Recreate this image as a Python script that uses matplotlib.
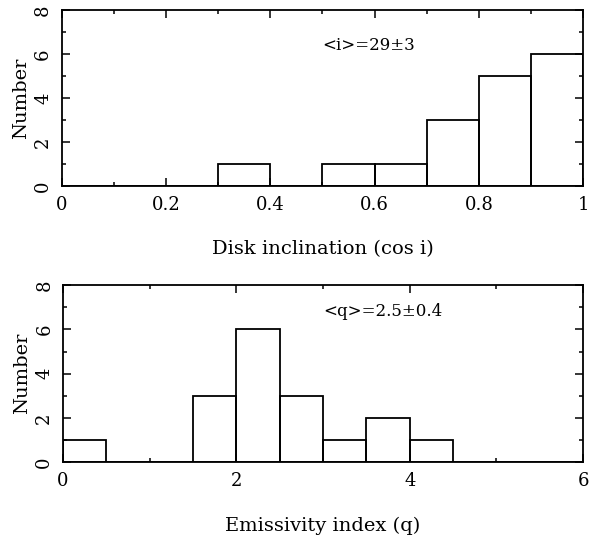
import matplotlib
matplotlib.use("Agg")
import matplotlib.pyplot as plt
from matplotlib.ticker import MultipleLocator

# Data
incl_edges = [0.0, 0.1, 0.2, 0.3, 0.4, 0.5, 0.6, 0.7, 0.8, 0.9, 1.0]
incl_counts = [0, 0, 0, 1, 0, 1, 1, 3, 5, 6]
q_edges = [0.0, 0.5, 1.0, 1.5, 2.0, 2.5, 3.0, 3.5, 4.0, 4.5, 5.0, 5.5, 6.0]
q_counts = [1, 0, 0, 3, 6, 3, 1, 2, 1, 0, 0, 0]

plt.rcParams['font.family'] = ['DejaVu Serif']
plt.rcParams['font.size'] = 12

fig = plt.figure(figsize=(5.89, 5.38), dpi=100)
ax1 = fig.add_axes([0.105, 0.654, 0.885, 0.327])
ax2 = fig.add_axes([0.107, 0.141, 0.883, 0.329])

def draw(ax, edges, counts, xmaj, xmin, xlim, xlabel, note, note_xy):
    widths = [edges[i+1]-edges[i] for i in range(len(counts))]
    ax.bar(edges[:-1], counts, width=widths, align='edge', fill=False,
           edgecolor='black', linewidth=1.3)
    ax.set_xlim(*xlim)
    ax.set_ylim(0, 8)
    ax.xaxis.set_major_locator(MultipleLocator(xmaj))
    ax.xaxis.set_minor_locator(MultipleLocator(xmin))
    ax.yaxis.set_major_locator(MultipleLocator(2))
    ax.yaxis.set_minor_locator(MultipleLocator(1))
    ax.tick_params(which='both', direction='in', top=True, right=True, width=1.1)
    ax.tick_params(which='major', length=6, labelsize=13, pad=7)
    ax.tick_params(which='minor', length=3)
    for lab in ax.get_yticklabels():
        lab.set_rotation(90)
        lab.set_va('center')
    for s in ax.spines.values():
        s.set_linewidth(1.3)
    ax.set_xlabel(xlabel, fontsize=14, labelpad=19)
    ax.set_ylabel('Number', fontsize=14, labelpad=3)
    ax.text(note_xy[0], note_xy[1], note, fontsize=12, ha='left', va='center')

draw(ax1, incl_edges, incl_counts, 0.2, 0.1, (0, 1),
     'Disk inclination (cos i)', '<i>=29±3', (0.5, 6.4))
ax1.xaxis.set_major_formatter(plt.FuncFormatter(lambda v, p: '0' if abs(v) < 1e-9 else ('1' if abs(v-1) < 1e-9 else f'{v:.1f}')))
draw(ax2, q_edges, q_counts, 2, 1, (0, 6),
     'Emissivity index (q)', '<q>=2.5±0.4', (3.0, 6.8))

fig.savefig('out.png', dpi=100)
